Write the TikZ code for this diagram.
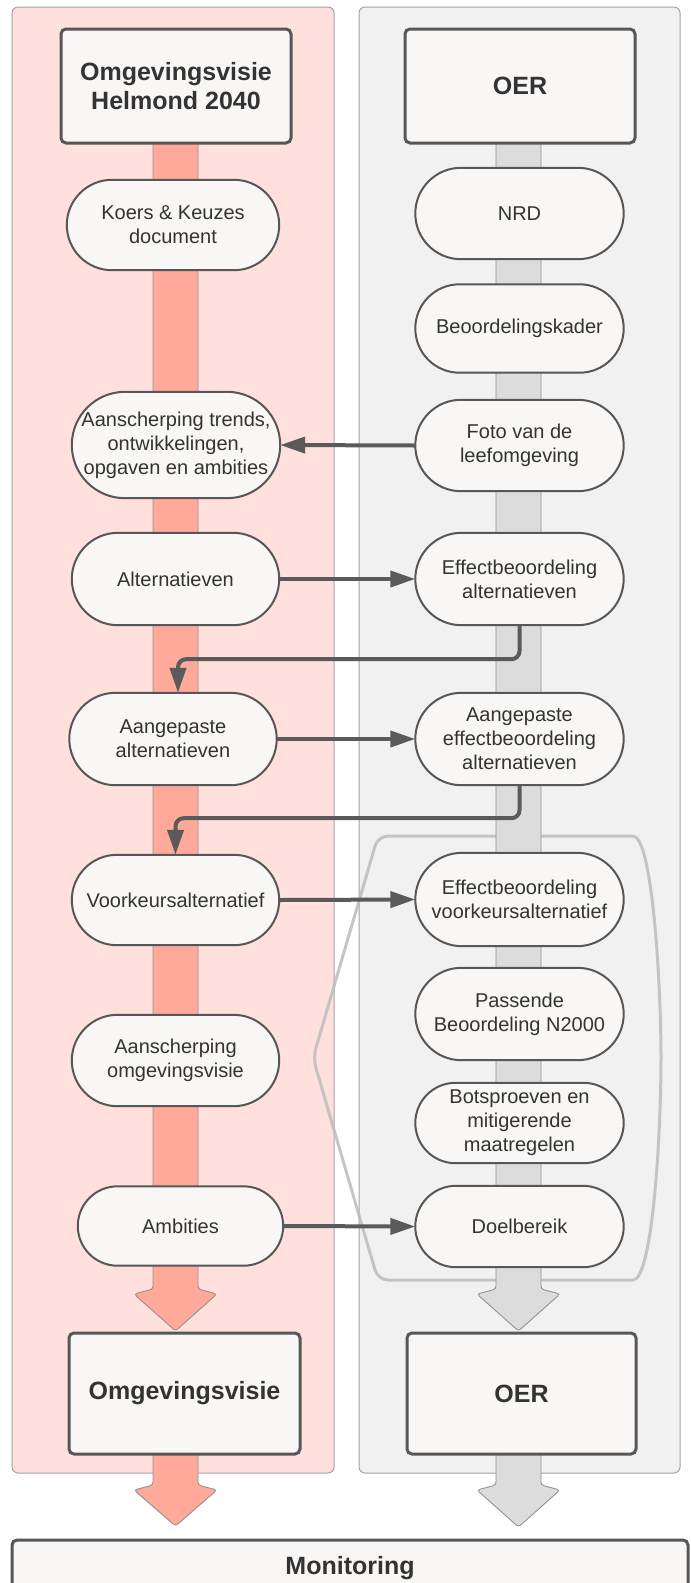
\documentclass[tikz,border=0pt]{standalone}
\usepackage{fontspec}
\setmainfont{Liberation Sans}
\usetikzlibrary{arrows.meta,calc}
\pgfdeclarelayer{bg}
\pgfdeclarelayer{mid}
\pgfsetlayers{bg,mid,main}
\definecolor{pinkbg}{HTML}{FFE0DC}
\definecolor{graybg}{HTML}{F1F1F1}
\definecolor{salmon}{HTML}{FFA99B}
\definecolor{spinegray}{HTML}{DCDCDC}
\definecolor{spineline}{HTML}{929292}
\definecolor{boxfill}{HTML}{F8F7F5}
\definecolor{boxline}{HTML}{575757}
\definecolor{arrowc}{HTML}{5A5A5A}
\definecolor{textc}{HTML}{333333}
\definecolor{panelline}{HTML}{A3A3A3}
\definecolor{bracketc}{HTML}{BDBDBD}
\tikzset{
  txt/.style={inner sep=0pt, align=center, text=textc, font=\fontsize{20}{24}\selectfont},
  stadline/.style={draw=boxline, line width=2pt, fill=boxfill},
  bigbox/.style={draw=boxline, line width=3pt, fill=boxfill, rounded corners=5pt, inner sep=0pt, align=center, text=textc, font=\fontsize{25}{29}\selectfont\bfseries},
  arr/.style={draw=arrowc, line width=4pt, -{Triangle[length=25pt,width=16pt]}},
  panel/.style={draw=panelline, line width=1pt, rounded corners=6pt},
  spinepath/.style={draw=spineline, line width=0.9pt, rounded corners=3pt},
  bracketline/.style={draw=bracketc, draw opacity=0.85, line width=3pt, line cap=round, line join=round},
}
\newcommand\stad[1]{\path[stadline] let \p1=(#1.north west), \p2=(#1.south east), \n1={(\y1-\y2)/2} in (\x1+\n1,\y1) -- (\x2-\n1,\y1) arc[start angle=90,end angle=-90,radius=\n1] -- (\x1+\n1,\y2) arc[start angle=270,end angle=90,radius=\n1] -- cycle;}
\begin{document}
\begin{tikzpicture}[x=1pt,y=-1pt]
\useasboundingbox (0,0) rectangle (691,1583);
\begin{pgfonlayer}{bg}
\fill[white] (0,0) rectangle (691,1583);
\path[panel, fill=pinkbg] (12,7) rectangle (334,1473);
\path[panel, fill=graybg] (359,7) rectangle (680,1473);
% bracket
\path[bracketline] (633,836) .. controls (652,836) and (661,980) .. (661,1058) .. controls (661,1140) and (652,1280) .. (633,1280)
  [rounded corners=10pt] -- (378,1280) -- (313,1058) -- (378,836) -- (633,836);
% left spine
\path[spinepath, fill=salmon] (153,130) -- (153,1289) -- (134,1294) -- (175.5,1331) -- (217,1294) -- (198,1289) -- (198,130) -- cycle;
\path[spinepath, fill=salmon] (153,1440) -- (153,1485) -- (134,1490) -- (175.5,1526) -- (217,1490) -- (198,1485) -- (198,1440) -- cycle;
% right spine
\path[spinepath, fill=spinegray] (496,130) -- (496,1289) -- (477,1294) -- (518.5,1331) -- (560,1294) -- (541,1289) -- (541,130) -- cycle;
\path[spinepath, fill=spinegray] (496,1440) -- (496,1485) -- (477,1490) -- (518.5,1527) -- (560,1490) -- (541,1485) -- (541,1440) -- cycle;
\end{pgfonlayer}

% big boxes
\node[bigbox, minimum width=230pt, minimum height=114pt] (tl) at (176,86) {Omgevingsvisie\\Helmond 2040};
\node[bigbox, minimum width=230pt, minimum height=114pt] (tr) at (520,86) {OER};
\node[bigbox, minimum width=231pt, minimum height=121pt] (bl) at (184.5,1393.5) {Omgevingsvisie};
\node[bigbox, minimum width=229pt, minimum height=121pt] (br) at (521.5,1393.5) {OER};
\node[bigbox, minimum width=676pt, minimum height=56pt] (mon) at (350,1568) {Monitoring};

% left column
\node[txt, minimum width=212pt, minimum height=90pt] (koers) at (173,225) {Koers \& Keuzes\\document};
\node[txt, minimum width=208pt, minimum height=106pt] (aansch) at (176,445) {Aanscherping trends,\\ontwikkelingen,\\opgaven en ambities};
\node[txt, minimum width=207pt, minimum height=92pt] (alt) at (175.5,579) {Alternatieven};
\node[txt, minimum width=207pt, minimum height=92pt] (aangalt) at (173,739) {Aangepaste\\alternatieven};
\node[txt, minimum width=207pt, minimum height=90pt] (voork) at (175.5,900) {Voorkeursalternatief};
\node[txt, minimum width=207pt, minimum height=91pt] (aanschov) at (175.5,1060.5) {Aanscherping\\omgevingsvisie};
\node[txt, minimum width=205pt, minimum height=79pt] (amb) at (180.5,1226) {Ambities};

% right column
\node[txt, minimum width=208pt, minimum height=91pt] (nrd) at (519.5,213.5) {NRD};
\node[txt, minimum width=208pt, minimum height=88pt] (beoord) at (519.5,328.5) {Beoordelingskader};
\node[txt, minimum width=208pt, minimum height=91pt] (foto) at (519.5,445.5) {Foto van de\\leefomgeving};
\node[txt, minimum width=208pt, minimum height=92pt] (effalt) at (519.5,579) {Effectbeoordeling\\alternatieven};
\node[txt, minimum width=208pt, minimum height=92pt] (aangeff) at (519.5,739) {Aangepaste\\effectbeoordeling\\alternatieven};
\node[txt, minimum width=208pt, minimum height=93pt] (effvoork) at (519.5,899.5) {Effectbeoordeling\\voorkeursalternatief};
\node[txt, minimum width=208pt, minimum height=92pt] (passende) at (519.5,1014) {Passende\\Beoordeling N2000};
\node[txt, minimum width=208pt, minimum height=80pt] (bots) at (519.5,1123) {Botsproeven en\\mitigerende\\maatregelen};
\node[txt, minimum width=208pt, minimum height=81pt] (doel) at (519.5,1226.5) {Doelbereik};

\begin{pgfonlayer}{mid}
\foreach \s in {koers,aansch,alt,aangalt,voork,aanschov,amb,nrd,beoord,foto,effalt,aangeff,effvoork,passende,bots,doel} {\stad{\s}}
\end{pgfonlayer}

% connectors
\draw[arr] (foto.west) -- (aansch.east);
\draw[arr] (alt.east) -- (effalt.west);
\draw[arr, rounded corners=8pt] (effalt.south) -- ++(0,34) -| ([xshift=5pt]aangalt.north);
\draw[arr] (aangalt.east) -- (aangeff.west);
\draw[arr, rounded corners=8pt] (aangeff.south) -- ++(0,33) -| (voork.north);
\draw[arr] (voork.east) -- (effvoork.west);
\draw[arr] (amb.east) -- (doel.west);
\end{tikzpicture}
\end{document}
